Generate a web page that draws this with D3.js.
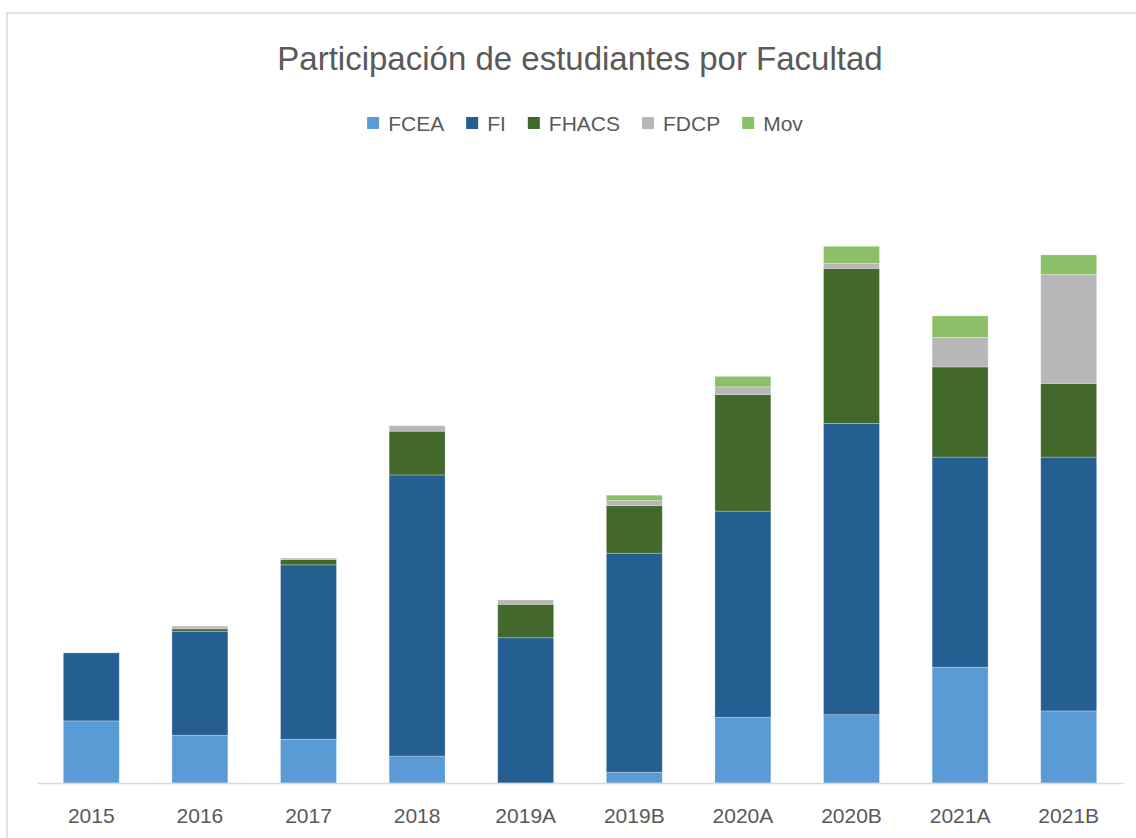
<!DOCTYPE html>
<html>
<head>
<meta charset="utf-8">
<script src="https://cdn.jsdelivr.net/npm/d3@7"></script>
<style>
  body { margin: 0; background: #fff; }
  text { font-family: "Liberation Sans", Arial, sans-serif; fill: #595959; }
</style>
</head>
<body>
<div class="chart"></div>
<script>
// Chart data (arbitrary units)
var categories = ["2015", "2016", "2017", "2018", "2019A", "2019B", "2020A", "2020B", "2021A", "2021B"];
var seriesNames = ["FCEA", "FI", "FHACS", "FDCP", "Mov"];
var fcea  = [23.0, 17.7, 16.2, 10.0, 0.0, 4.0, 24.3, 25.3, 42.9, 26.7];
var fi    = [25.2, 38.5, 64.6, 104.1, 53.8, 81.1, 76.4, 107.9, 77.8, 94.0];
var fhacs = [0.0, 0.9, 2.0, 16.2, 12.4, 17.6, 43.2, 57.4, 33.4, 27.3];
var fdcp  = [0.0, 1.0, 0.5, 2.0, 1.6, 1.9, 2.8, 1.9, 10.9, 40.3];
var mov   = [0.0, 0.0, 0.0, 0.0, 0.0, 2.0, 3.9, 6.3, 8.0, 7.3];

var colors = ["#5B9BD5", "#255E91", "#43682B", "#B7B7B7", "#8CC068"];

// SVG area
var svgWidth = 1136;
var svgHeight = 838;

var svg = d3.select(".chart")
  .append("svg")
  .attr("width", svgWidth)
  .attr("height", svgHeight);

// Chart border (light gray frame)
svg.append("rect")
  .attr("x", 7)
  .attr("y", 13)
  .attr("width", svgWidth + 20)
  .attr("height", svgHeight + 20)
  .attr("fill", "none")
  .attr("stroke", "#d9d9d9")
  .attr("stroke-width", 1.5);

// Build table for stacking
var table = categories.map(function(c, i) {
  return { cat: c, FCEA: fcea[i], FI: fi[i], FHACS: fhacs[i], FDCP: fdcp[i], Mov: mov[i] };
});

var stacked = d3.stack().keys(seriesNames)(table);

// Scales
var xBandScale = d3.scaleBand()
  .domain(categories)
  .range([37, 1123])
  .paddingInner(0.485)
  .paddingOuter(0.2425);

var yLinearScale = d3.scaleLinear()
  .domain([0, 200])
  .range([783, 243]);

var color = d3.scaleOrdinal().domain(seriesNames).range(colors);

// Bars
svg.selectAll(".series")
  .data(stacked)
  .enter()
  .append("g")
  .attr("class", "series")
  .attr("fill", d => color(d.key))
  .selectAll("rect")
  .data(d => d)
  .enter()
  .append("rect")
  .attr("x", d => xBandScale(d.data.cat))
  .attr("y", d => yLinearScale(d[1]))
  .attr("width", xBandScale.bandwidth())
  .attr("height", d => yLinearScale(d[0]) - yLinearScale(d[1]))
  .attr("stroke", "#ffffff")
  .attr("stroke-opacity", 0.35)
  .attr("stroke-width", 0.75);

// Bottom axis
var bottomAxis = d3.axisBottom(xBandScale).tickSize(0).tickPadding(25);

var axisG = svg.append("g")
  .attr("transform", "translate(0, 783)")
  .call(bottomAxis);

axisG.select(".domain")
  .attr("stroke", "#d9d9d9")
  .attr("stroke-width", 1.5);

axisG.selectAll("text")
  .attr("font-size", "21px")
  .attr("fill", "#595959")
  .style("font-family", "'Liberation Sans', Arial, sans-serif");

// Title
svg.append("text")
  .attr("x", 580)
  .attr("y", 70)
  .attr("text-anchor", "middle")
  .attr("font-size", "33px")
  .text("Participación de estudiantes por Facultad");

// Legend, centred
var legend = svg.append("g");
var xPos = 0;
seriesNames.forEach(function(name, i) {
  var item = legend.append("g").attr("transform", `translate(${xPos}, 0)`);
  item.append("rect")
    .attr("x", 0)
    .attr("y", -14)
    .attr("width", 12)
    .attr("height", 12)
    .attr("fill", colors[i]);
  var t = item.append("text")
    .attr("x", 21)
    .attr("y", 0)
    .attr("font-size", "21px")
    .text(name);
  xPos += 21 + t.node().getComputedTextLength() + 22;
});
var legendWidth = xPos - 22;
legend.attr("transform", `translate(${585 - legendWidth / 2}, 131)`);
</script>
</body>
</html>
